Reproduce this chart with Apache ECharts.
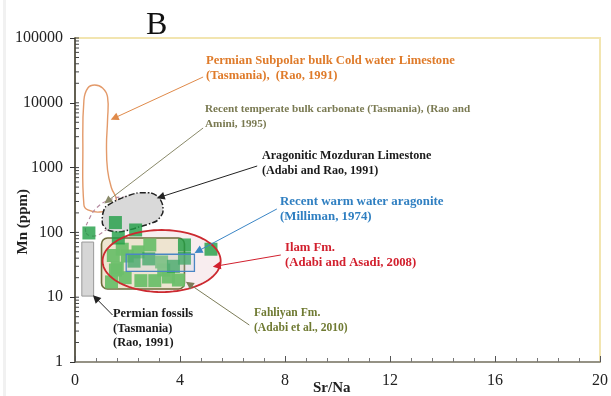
<!DOCTYPE html>
<html>
<head>
<meta charset="utf-8">
<script src="https://cdn.jsdelivr.net/npm/echarts@6/dist/echarts.min.js"></script>
<style>
  html, body { margin: 0; padding: 0; background: #ffffff; }
  #chart { width: 611px; height: 396px; }
</style>
</head>
<body>
<div id="chart"></div>
<script>
// Sr/Na versus Mn (ppm) cross-plot with published carbonate reference fields

const xTickValues = [0, 4, 8, 12, 16, 20];
const yTickLabels = ['1', '10', '100', '1000', '10000', '100000'];

// Sample points [Sr/Na, Mn ppm]
const darkSamples = [
  [0.53, 98], [1.54, 142], [2.31, 109], [1.65, 82], [5.18, 55],
  [2.81, 39], [2.25, 36], [3.75, 30], [4.17, 64], [4.17, 40]
];
const lightSamples = [
  [1.80, 55], [1.46, 44], [2.40, 50], [2.85, 64], [3.30, 35],
  [1.91, 20], [2.51, 18], [3.04, 18], [3.56, 20.5], [1.61, 28],
  [1.54, 26.3], [1.39, 17.2], [3.94, 18.4], [3.38, 26.3], [1.99, 43.2]
];

// Reference field outlines [Sr/Na, Mn ppm]
const permianColdField = [
  [0.34, 265], [0.30, 1870], [0.34, 11040], [0.49, 16900], [0.75, 18800],
  [1.05, 16900], [1.24, 12300], [1.24, 5430], [1.20, 2230], [1.24, 918],
  [1.39, 484], [1.58, 316], [1.43, 238], [0.94, 206], [0.49, 222]
];
const temperateField = [
  [0.41, 101], [0.56, 167], [0.86, 247], [1.31, 316], [1.88, 352],
  [2.36, 316], [2.44, 222], [1.99, 155], [1.31, 117], [0.75, 88]
];
const mozduranField = [
  [1.05, 186], [1.16, 247], [1.69, 328], [2.36, 405], [2.89, 405], [3.19, 352],
  [3.34, 265], [3.34, 199], [3.11, 150], [2.44, 121], [1.69, 101], [1.24, 109], [1.05, 135]
];
const permianFossilBox = [[0.26, 10.4], [0.71, 71]];
const fahliyanBox = [[1.01, 13.4], [4.17, 82]];
const warmAragoniteBox = [[1.95, 25], [4.55, 46]];
const ilamEllipseBox = [[1.05, 12], [5.55, 109]];

// Leader arrows [from, to]
const arrowOrange = [[4.88, 25000], [1.50, 5830]];
const arrowTemperate = [[4.88, 4080], [1.24, 305]];
const arrowMozduran = [[6.94, 1059], [3.26, 352]];
const arrowWarm = [[7.69, 230], [4.69, 51.6]];
const arrowIlam = [[7.84, 44.8], [5.40, 30.3]];
const arrowFahliyan = [[6.64, 3.72], [4.35, 16.0]];
const arrowFossils = [[1.43, 5.31], [0.79, 9.72]];

const SERIF = '"Liberation Serif", "DejaVu Serif", serif';

// Inward minor ticks of the log axis at 2..10 x each decade
const yMinorTicks = [];
for (let d = 0; d < yTickLabels.length - 1; d++) {
  const base = Number(yTickLabels[d]);
  for (let k = 2; k <= 10; k++) yMinorTicks.push([0, k * base]);
}

function polygonSeries(points, style, smooth, z) {
  return {
    type: 'custom', coordinateSystem: 'cartesian2d', silent: true, z: z,
    data: points,
    renderItem: function (params, api) {
      if (params.dataIndex !== 0) return null;
      return {
        type: 'polygon',
        shape: { points: points.map(function (p) { return api.coord(p); }), smooth: smooth },
        style: style
      };
    }
  };
}

function boxSeries(box, style, radius, z) {
  return {
    type: 'custom', coordinateSystem: 'cartesian2d', silent: true, z: z,
    data: box,
    renderItem: function (params, api) {
      if (params.dataIndex !== 0) return null;
      const a = api.coord(box[0]);
      const b = api.coord(box[1]);
      return {
        type: 'rect',
        shape: {
          x: Math.min(a[0], b[0]), y: Math.min(a[1], b[1]),
          width: Math.abs(b[0] - a[0]), height: Math.abs(b[1] - a[1]), r: radius
        },
        style: style
      };
    }
  };
}

function ellipseSeries(box, style, z) {
  return {
    type: 'custom', coordinateSystem: 'cartesian2d', silent: true, z: z,
    data: box,
    renderItem: function (params, api) {
      if (params.dataIndex !== 0) return null;
      const a = api.coord(box[0]);
      const b = api.coord(box[1]);
      const cx = (a[0] + b[0]) / 2, cy = (a[1] + b[1]) / 2;
      const rx = Math.abs(b[0] - a[0]) / 2, ry = Math.abs(b[1] - a[1]) / 2;
      const pts = [];
      for (let i = 0; i < 96; i++) {
        const t = i / 96 * Math.PI * 2;
        pts.push([cx + rx * Math.cos(t), cy + ry * Math.sin(t)]);
      }
      return { type: 'polygon', shape: { points: pts }, style: style };
    }
  };
}

function arrow(pair, color) {
  return { coords: pair, lineStyle: { color: color } };
}

function label(text, x, y, color, size, lh) {
  return {
    type: 'text', left: x, top: y, silent: true,
    style: {
      text: text, fill: color, font: 'bold ' + size + 'px ' + SERIF,
      lineHeight: lh || 15
    }
  };
}

const chart = echarts.init(document.getElementById('chart'), null, { renderer: 'canvas' });

chart.setOption({
  animation: false,
  backgroundColor: '#ffffff',
  grid: {
    left: 75, right: 4, top: 38, bottom: 34,
    show: true, borderColor: '#f2e5b0', borderWidth: 2, backgroundColor: 'transparent'
  },
  xAxis: {
    type: 'value', min: 0, max: 20, interval: 4,
    axisLine: { show: true, onZero: false, lineStyle: { color: '#777777', width: 1.5 } },
    axisTick: { show: true, inside: true, length: 6, lineStyle: { color: '#555555' } },
    minorTick: { show: true, splitNumber: 5, length: 4, lineStyle: { color: '#777777' } },
    splitLine: { show: false },
    axisLabel: {
      margin: 11, color: '#222222', fontFamily: SERIF, fontSize: 16,
      formatter: function (v) { return xTickValues.indexOf(v) >= 0 ? String(v) : ''; }
    }
  },
  yAxis: {
    type: 'log', logBase: 10, min: 1, max: 100000,
    axisLine: { show: true, onZero: false, lineStyle: { color: '#333333', width: 1.5 } },
    axisTick: { show: true, inside: false, length: 5, lineStyle: { color: '#333333' } },
    splitLine: { show: false },
    axisLabel: {
      margin: 12, color: '#222222', fontFamily: SERIF, fontSize: 16,
      formatter: function (v) { return yTickLabels[Math.round(Math.log10(v))]; }
    }
  },
  graphic: [
    { type: 'rect', silent: true, shape: { x: 3, y: 0, width: 3, height: 396 }, style: { fill: '#f1f1f1' } },
    { type: 'text', left: 146, top: 10, silent: true,
      style: { text: 'B', fill: '#111111', font: '32px ' + SERIF } },
    { type: 'text', left: 313, top: 381, silent: true,
      style: { text: 'Sr/Na', fill: '#222222', font: 'bold 15px ' + SERIF } },
    { type: 'text', left: 16, top: 189, rotation: Math.PI / 2, silent: true,
      style: { text: 'Mn (ppm)', fill: '#222222', font: 'bold 15px ' + SERIF } },
    label('Permian Subpolar bulk Cold water Limestone\n(Tasmania),  (Rao, 1991)', 206, 53, '#df7b2a', 12.6),
    label('Recent temperate bulk carbonate (Tasmania), (Rao and\nAmini, 1995)', 205, 102, '#7a7a52', 11.2),
    label('Aragonitic Mozduran Limestone\n(Adabi and Rao, 1991)', 262, 148, '#1a1a1a', 12.1),
    label('Recent warm water aragonite\n(Milliman, 1974)', 280, 194, '#2f7fc1', 12.9),
    label('Ilam Fm.\n(Adabi and Asadi, 2008)', 285, 240, '#d2202e', 12.7),
    label('Fahliyan Fm.\n(Adabi et al., 2010)', 254, 305, '#6f7a32', 11.6),
    label('Permian fossils\n(Tasmania)\n(Rao, 1991)', 113, 307, '#1a1a1a', 12.4, 14.5)
  ],
  series: [
    ellipseSeries(ilamEllipseBox, { fill: 'rgba(225,175,180,0.22)', stroke: 'none' }, 1),
    polygonSeries(permianColdField, { fill: 'none', stroke: '#e39a6a', lineWidth: 1.4 }, 0.45, 2),
    polygonSeries(temperateField, { fill: 'none', stroke: '#b58aa0', lineWidth: 1.2, lineDash: [4, 3] }, 0.45, 2),
    polygonSeries(mozduranField, { fill: '#d9d9d9', stroke: '#222222', lineWidth: 1.5, lineDash: [6, 2, 1.5, 2] }, 0.2, 3),
    boxSeries(permianFossilBox, { fill: '#d6d6d6', stroke: '#9a9a9a', lineWidth: 1 }, 0, 3),
    boxSeries(fahliyanBox, { fill: 'rgba(236,226,204,0.9)', stroke: '#6d6a3a', lineWidth: 1.6 }, 6, 4),
    {
      type: 'scatter', z: 5, silent: true, symbol: 'rect', symbolSize: 13,
      data: lightSamples,
      itemStyle: { color: '#6cbf6a', opacity: 0.95 }
    },
    {
      type: 'scatter', z: 6, silent: true, symbol: 'rect', symbolSize: 13,
      data: darkSamples,
      itemStyle: { color: '#1f9e45' }
    },
    boxSeries(warmAragoniteBox, { fill: 'rgba(190,205,225,0.25)', stroke: '#4a86c4', lineWidth: 1.3 }, 0, 7),
    ellipseSeries(ilamEllipseBox, { fill: 'none', stroke: '#cc2a30', lineWidth: 1.8 }, 8),
    {
      type: 'lines', coordinateSystem: 'cartesian2d', z: 9, silent: true,
      symbol: ['none', 'triangle'], symbolSize: 8,
      lineStyle: { width: 1, opacity: 1 },
      data: [
        arrow(arrowOrange, '#e08a4a'),
        arrow(arrowTemperate, '#8a8a6a'),
        arrow(arrowMozduran, '#222222'),
        arrow(arrowWarm, '#3b86c6'),
        arrow(arrowIlam, '#d2202e'),
        arrow(arrowFahliyan, '#7c7c58'),
        arrow(arrowFossils, '#222222')
      ]
    },
    {
      type: 'custom', coordinateSystem: 'cartesian2d', z: 10, silent: true, clip: false,
      data: yMinorTicks,
      renderItem: function (params, api) {
        const p = api.coord([api.value(0), api.value(1)]);
        return {
          type: 'line',
          shape: { x1: p[0], y1: p[1], x2: p[0] + 4, y2: p[1] },
          style: { stroke: '#444444', lineWidth: 1 }
        };
      }
    }
  ]
});
</script>
</body>
</html>
